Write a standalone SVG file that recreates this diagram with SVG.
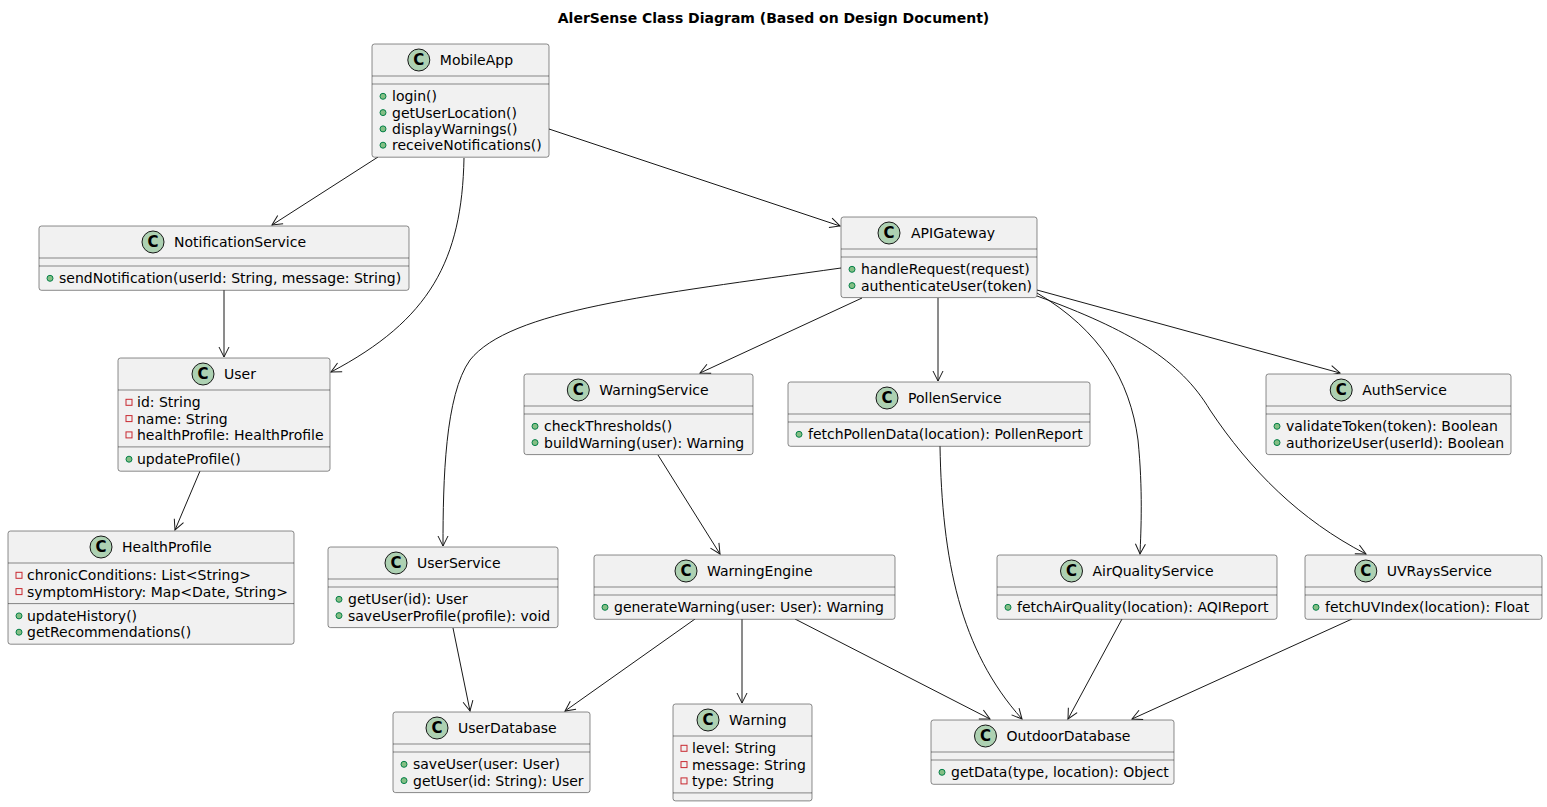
<svg xmlns="http://www.w3.org/2000/svg" width="1547" height="807" viewBox="0 0 1547 807">
<style>
text{font-family:"DejaVu Sans","Liberation Sans",sans-serif;font-size:14px;fill:#000}
.title{font-weight:bold;text-anchor:middle}
.box{fill:#F1F1F1;stroke:#181818;stroke-width:0.5}
.sep{stroke:#181818;stroke-width:0.5}
.cc{fill:#ADD1B2;stroke:#181818;stroke-width:1}
.cl{font-weight:bold;font-size:15px;text-anchor:middle;fill:#000}
.pub{fill:#84BE84;stroke:#038048;stroke-width:1}
.priv{fill:none;stroke:#C82930;stroke-width:1}
.edge{fill:none;stroke:#181818;stroke-width:1}
</style>
<defs>
<marker id="arr" markerWidth="14" markerHeight="12" refX="11" refY="6" orient="auto" markerUnits="userSpaceOnUse">
<path d="M1,1 L11,6 L1,11" fill="none" stroke="#181818" stroke-width="1"/>
</marker>
</defs>
<text class="title" x="773.5" y="23">AlerSense Class Diagram (Based on Design Document)</text>

<g id="connectors">
<path class="edge" marker-end="url(#arr)" d="M378,157 L272,225"/>
<path class="edge" marker-end="url(#arr)" d="M464,158 C462,260 430,320 331,372"/>
<path class="edge" marker-end="url(#arr)" d="M549,129 L840,226"/>
<path class="edge" marker-end="url(#arr)" d="M224,290 L224,357"/>
<path class="edge" marker-end="url(#arr)" d="M200,471 L175,530"/>
<path class="edge" marker-end="url(#arr)" d="M841,268 C650,295 510,310 470,360 C445,395 443,480 443,546"/>
<path class="edge" marker-end="url(#arr)" d="M862,298 L700,373"/>
<path class="edge" marker-end="url(#arr)" d="M938,298 L938,381"/>
<path class="edge" marker-end="url(#arr)" d="M1037,293 C1100,330 1130,380 1138,440 C1143,490 1141,530 1140,554"/>
<path class="edge" marker-end="url(#arr)" d="M1037,296 C1130,330 1180,360 1210,410 C1250,470 1300,520 1366,554"/>
<path class="edge" marker-end="url(#arr)" d="M1037,290 L1340,373"/>
<path class="edge" marker-end="url(#arr)" d="M658,455 L720,554"/>
<path class="edge" marker-end="url(#arr)" d="M940,446 C942,560 960,650 1022,719"/>
<path class="edge" marker-end="url(#arr)" d="M453,628 L470,711"/>
<path class="edge" marker-end="url(#arr)" d="M695,619 L565,711"/>
<path class="edge" marker-end="url(#arr)" d="M742,619 L742,703"/>
<path class="edge" marker-end="url(#arr)" d="M795,619 L990,719"/>
<path class="edge" marker-end="url(#arr)" d="M1122,619 L1068,719"/>
<path class="edge" marker-end="url(#arr)" d="M1352,619 L1132,719"/>
</g>

<g id="MobileApp">
<rect class="box" x="372" y="44" width="177" height="113.2" rx="2.5"/>
<circle class="cc" cx="418.8" cy="60" r="11"/><text class="cl" x="418.8" y="65.3">C</text>
<text x="439.8" y="65">MobileApp</text>
<line class="sep" x1="372" y1="76" x2="549" y2="76"/>
<line class="sep" x1="372" y1="84" x2="549" y2="84"/>
<circle class="pub" cx="383" cy="96.3" r="3"/><text x="392" y="101.3">login()</text>
<circle class="pub" cx="383" cy="112.6" r="3"/><text x="392" y="117.6">getUserLocation()</text>
<circle class="pub" cx="383" cy="128.9" r="3"/><text x="392" y="133.9">displayWarnings()</text>
<circle class="pub" cx="383" cy="145.2" r="3"/><text x="392" y="150.2">receiveNotifications()</text>
</g>

<g id="NotificationService">
<rect class="box" x="39" y="226" width="370" height="64.3" rx="2.5"/>
<circle class="cc" cx="153" cy="242" r="11"/><text class="cl" x="153" y="247.3">C</text>
<text x="174" y="247">NotificationService</text>
<line class="sep" x1="39" y1="258" x2="409" y2="258"/>
<line class="sep" x1="39" y1="266" x2="409" y2="266"/>
<circle class="pub" cx="50" cy="278.3" r="3"/><text x="59" y="283.3">sendNotification(userId: String, message: String)</text>
</g>

<g id="APIGateway">
<rect class="box" x="841" y="217" width="196" height="80.6" rx="2.5"/>
<circle class="cc" cx="889" cy="233" r="11"/><text class="cl" x="889" y="238.3">C</text>
<text x="911" y="238">APIGateway</text>
<line class="sep" x1="841" y1="249" x2="1037" y2="249"/>
<line class="sep" x1="841" y1="257" x2="1037" y2="257"/>
<circle class="pub" cx="852" cy="269.3" r="3"/><text x="861" y="274.3">handleRequest(request)</text>
<circle class="pub" cx="852" cy="285.6" r="3"/><text x="861" y="290.6">authenticateUser(token)</text>
</g>

<g id="User">
<rect class="box" x="118" y="358" width="212" height="113.2" rx="2.5"/>
<circle class="cc" cx="203" cy="374" r="11"/><text class="cl" x="203" y="379.3">C</text>
<text x="224" y="379">User</text>
<line class="sep" x1="118" y1="390" x2="330" y2="390"/>
<rect class="priv" x="126" y="399.3" width="6" height="6"/><text x="137" y="407.3">id: String</text>
<rect class="priv" x="126" y="415.6" width="6" height="6"/><text x="137" y="423.6">name: String</text>
<rect class="priv" x="126" y="431.9" width="6" height="6"/><text x="137" y="439.9">healthProfile: HealthProfile</text>
<line class="sep" x1="118" y1="446.9" x2="330" y2="446.9"/>
<circle class="pub" cx="129" cy="459.2" r="3"/><text x="137" y="464.2">updateProfile()</text>
</g>

<g id="WarningService">
<rect class="box" x="524" y="374" width="229" height="80.6" rx="2.5"/>
<circle class="cc" cx="578.3" cy="390" r="11"/><text class="cl" x="578.3" y="395.3">C</text>
<text x="599.3" y="395">WarningService</text>
<line class="sep" x1="524" y1="406" x2="753" y2="406"/>
<line class="sep" x1="524" y1="414" x2="753" y2="414"/>
<circle class="pub" cx="535" cy="426.3" r="3"/><text x="544" y="431.3">checkThresholds()</text>
<circle class="pub" cx="535" cy="442.6" r="3"/><text x="544" y="447.6">buildWarning(user): Warning</text>
</g>

<g id="PollenService">
<rect class="box" x="788" y="382" width="302" height="64.3" rx="2.5"/>
<circle class="cc" cx="887" cy="398" r="11"/><text class="cl" x="887" y="403.3">C</text>
<text x="908" y="403">PollenService</text>
<line class="sep" x1="788" y1="414" x2="1090" y2="414"/>
<line class="sep" x1="788" y1="422" x2="1090" y2="422"/>
<circle class="pub" cx="799" cy="434.3" r="3"/><text x="808" y="439.3">fetchPollenData(location): PollenReport</text>
</g>

<g id="AuthService">
<rect class="box" x="1266" y="374" width="245" height="80.6" rx="2.5"/>
<circle class="cc" cx="1341.2" cy="390" r="11"/><text class="cl" x="1341.2" y="395.3">C</text>
<text x="1362.2" y="395">AuthService</text>
<line class="sep" x1="1266" y1="406" x2="1511" y2="406"/>
<line class="sep" x1="1266" y1="414" x2="1511" y2="414"/>
<circle class="pub" cx="1277" cy="426.3" r="3"/><text x="1286" y="431.3">validateToken(token): Boolean</text>
<circle class="pub" cx="1277" cy="442.6" r="3"/><text x="1286" y="447.6">authorizeUser(userId): Boolean</text>
</g>

<g id="HealthProfile">
<rect class="box" x="8" y="531" width="286" height="113.2" rx="2.5"/>
<circle class="cc" cx="101" cy="547" r="11"/><text class="cl" x="101" y="552.3">C</text>
<text x="122" y="552">HealthProfile</text>
<line class="sep" x1="8" y1="563" x2="294" y2="563"/>
<rect class="priv" x="16" y="572.3" width="6" height="6"/><text x="27" y="580.3">chronicConditions: List&lt;String&gt;</text>
<rect class="priv" x="16" y="588.6" width="6" height="6"/><text x="27" y="596.6">symptomHistory: Map&lt;Date, String&gt;</text>
<line class="sep" x1="8" y1="603.6" x2="294" y2="603.6"/>
<circle class="pub" cx="19" cy="615.9" r="3"/><text x="27" y="620.9">updateHistory()</text>
<circle class="pub" cx="19" cy="632.2" r="3"/><text x="27" y="637.2">getRecommendations()</text>
</g>

<g id="UserService">
<rect class="box" x="328" y="547" width="230" height="80.6" rx="2.5"/>
<circle class="cc" cx="396" cy="563" r="11"/><text class="cl" x="396" y="568.3">C</text>
<text x="417" y="568">UserService</text>
<line class="sep" x1="328" y1="579" x2="558" y2="579"/>
<line class="sep" x1="328" y1="587" x2="558" y2="587"/>
<circle class="pub" cx="339" cy="599.3" r="3"/><text x="348" y="604.3">getUser(id): User</text>
<circle class="pub" cx="339" cy="615.6" r="3"/><text x="348" y="620.6">saveUserProfile(profile): void</text>
</g>

<g id="WarningEngine">
<rect class="box" x="594" y="555" width="301" height="64.3" rx="2.5"/>
<circle class="cc" cx="686" cy="571" r="11"/><text class="cl" x="686" y="576.3">C</text>
<text x="707" y="576">WarningEngine</text>
<line class="sep" x1="594" y1="587" x2="895" y2="587"/>
<line class="sep" x1="594" y1="595" x2="895" y2="595"/>
<circle class="pub" cx="605" cy="607.3" r="3"/><text x="614" y="612.3">generateWarning(user: User): Warning</text>
</g>

<g id="AirQualityService">
<rect class="box" x="997" y="555" width="280" height="64.3" rx="2.5"/>
<circle class="cc" cx="1071.5" cy="571" r="11"/><text class="cl" x="1071.5" y="576.3">C</text>
<text x="1092.5" y="576">AirQualityService</text>
<line class="sep" x1="997" y1="587" x2="1277" y2="587"/>
<line class="sep" x1="997" y1="595" x2="1277" y2="595"/>
<circle class="pub" cx="1008" cy="607.3" r="3"/><text x="1017" y="612.3">fetchAirQuality(location): AQIReport</text>
</g>

<g id="UVRaysService">
<rect class="box" x="1305" y="555" width="237" height="64.3" rx="2.5"/>
<circle class="cc" cx="1365.8" cy="571" r="11"/><text class="cl" x="1365.8" y="576.3">C</text>
<text x="1386.8" y="576">UVRaysService</text>
<line class="sep" x1="1305" y1="587" x2="1542" y2="587"/>
<line class="sep" x1="1305" y1="595" x2="1542" y2="595"/>
<circle class="pub" cx="1316" cy="607.3" r="3"/><text x="1325" y="612.3">fetchUVIndex(location): Float</text>
</g>

<g id="UserDatabase">
<rect class="box" x="393" y="712" width="197" height="80.6" rx="2.5"/>
<circle class="cc" cx="437" cy="728" r="11"/><text class="cl" x="437" y="733.3">C</text>
<text x="458" y="733">UserDatabase</text>
<line class="sep" x1="393" y1="744" x2="590" y2="744"/>
<line class="sep" x1="393" y1="752" x2="590" y2="752"/>
<circle class="pub" cx="404" cy="764.3" r="3"/><text x="413" y="769.3">saveUser(user: User)</text>
<circle class="pub" cx="404" cy="780.6" r="3"/><text x="413" y="785.6">getUser(id: String): User</text>
</g>

<g id="Warning">
<rect class="box" x="673" y="704" width="139" height="96.9" rx="2.5"/>
<circle class="cc" cx="708" cy="720" r="11"/><text class="cl" x="708" y="725.3">C</text>
<text x="729" y="725">Warning</text>
<line class="sep" x1="673" y1="736" x2="812" y2="736"/>
<rect class="priv" x="681" y="745.3" width="6" height="6"/><text x="692" y="753.3">level: String</text>
<rect class="priv" x="681" y="761.6" width="6" height="6"/><text x="692" y="769.6">message: String</text>
<rect class="priv" x="681" y="777.9" width="6" height="6"/><text x="692" y="785.9">type: String</text>
<line class="sep" x1="673" y1="792.9" x2="812" y2="792.9"/>
</g>

<g id="OutdoorDatabase">
<rect class="box" x="931" y="720" width="243" height="64.3" rx="2.5"/>
<circle class="cc" cx="985.5" cy="736" r="11"/><text class="cl" x="985.5" y="741.3">C</text>
<text x="1006.5" y="741">OutdoorDatabase</text>
<line class="sep" x1="931" y1="752" x2="1174" y2="752"/>
<line class="sep" x1="931" y1="760" x2="1174" y2="760"/>
<circle class="pub" cx="942" cy="772.3" r="3"/><text x="951" y="777.3">getData(type, location): Object</text>
</g>
</svg>
